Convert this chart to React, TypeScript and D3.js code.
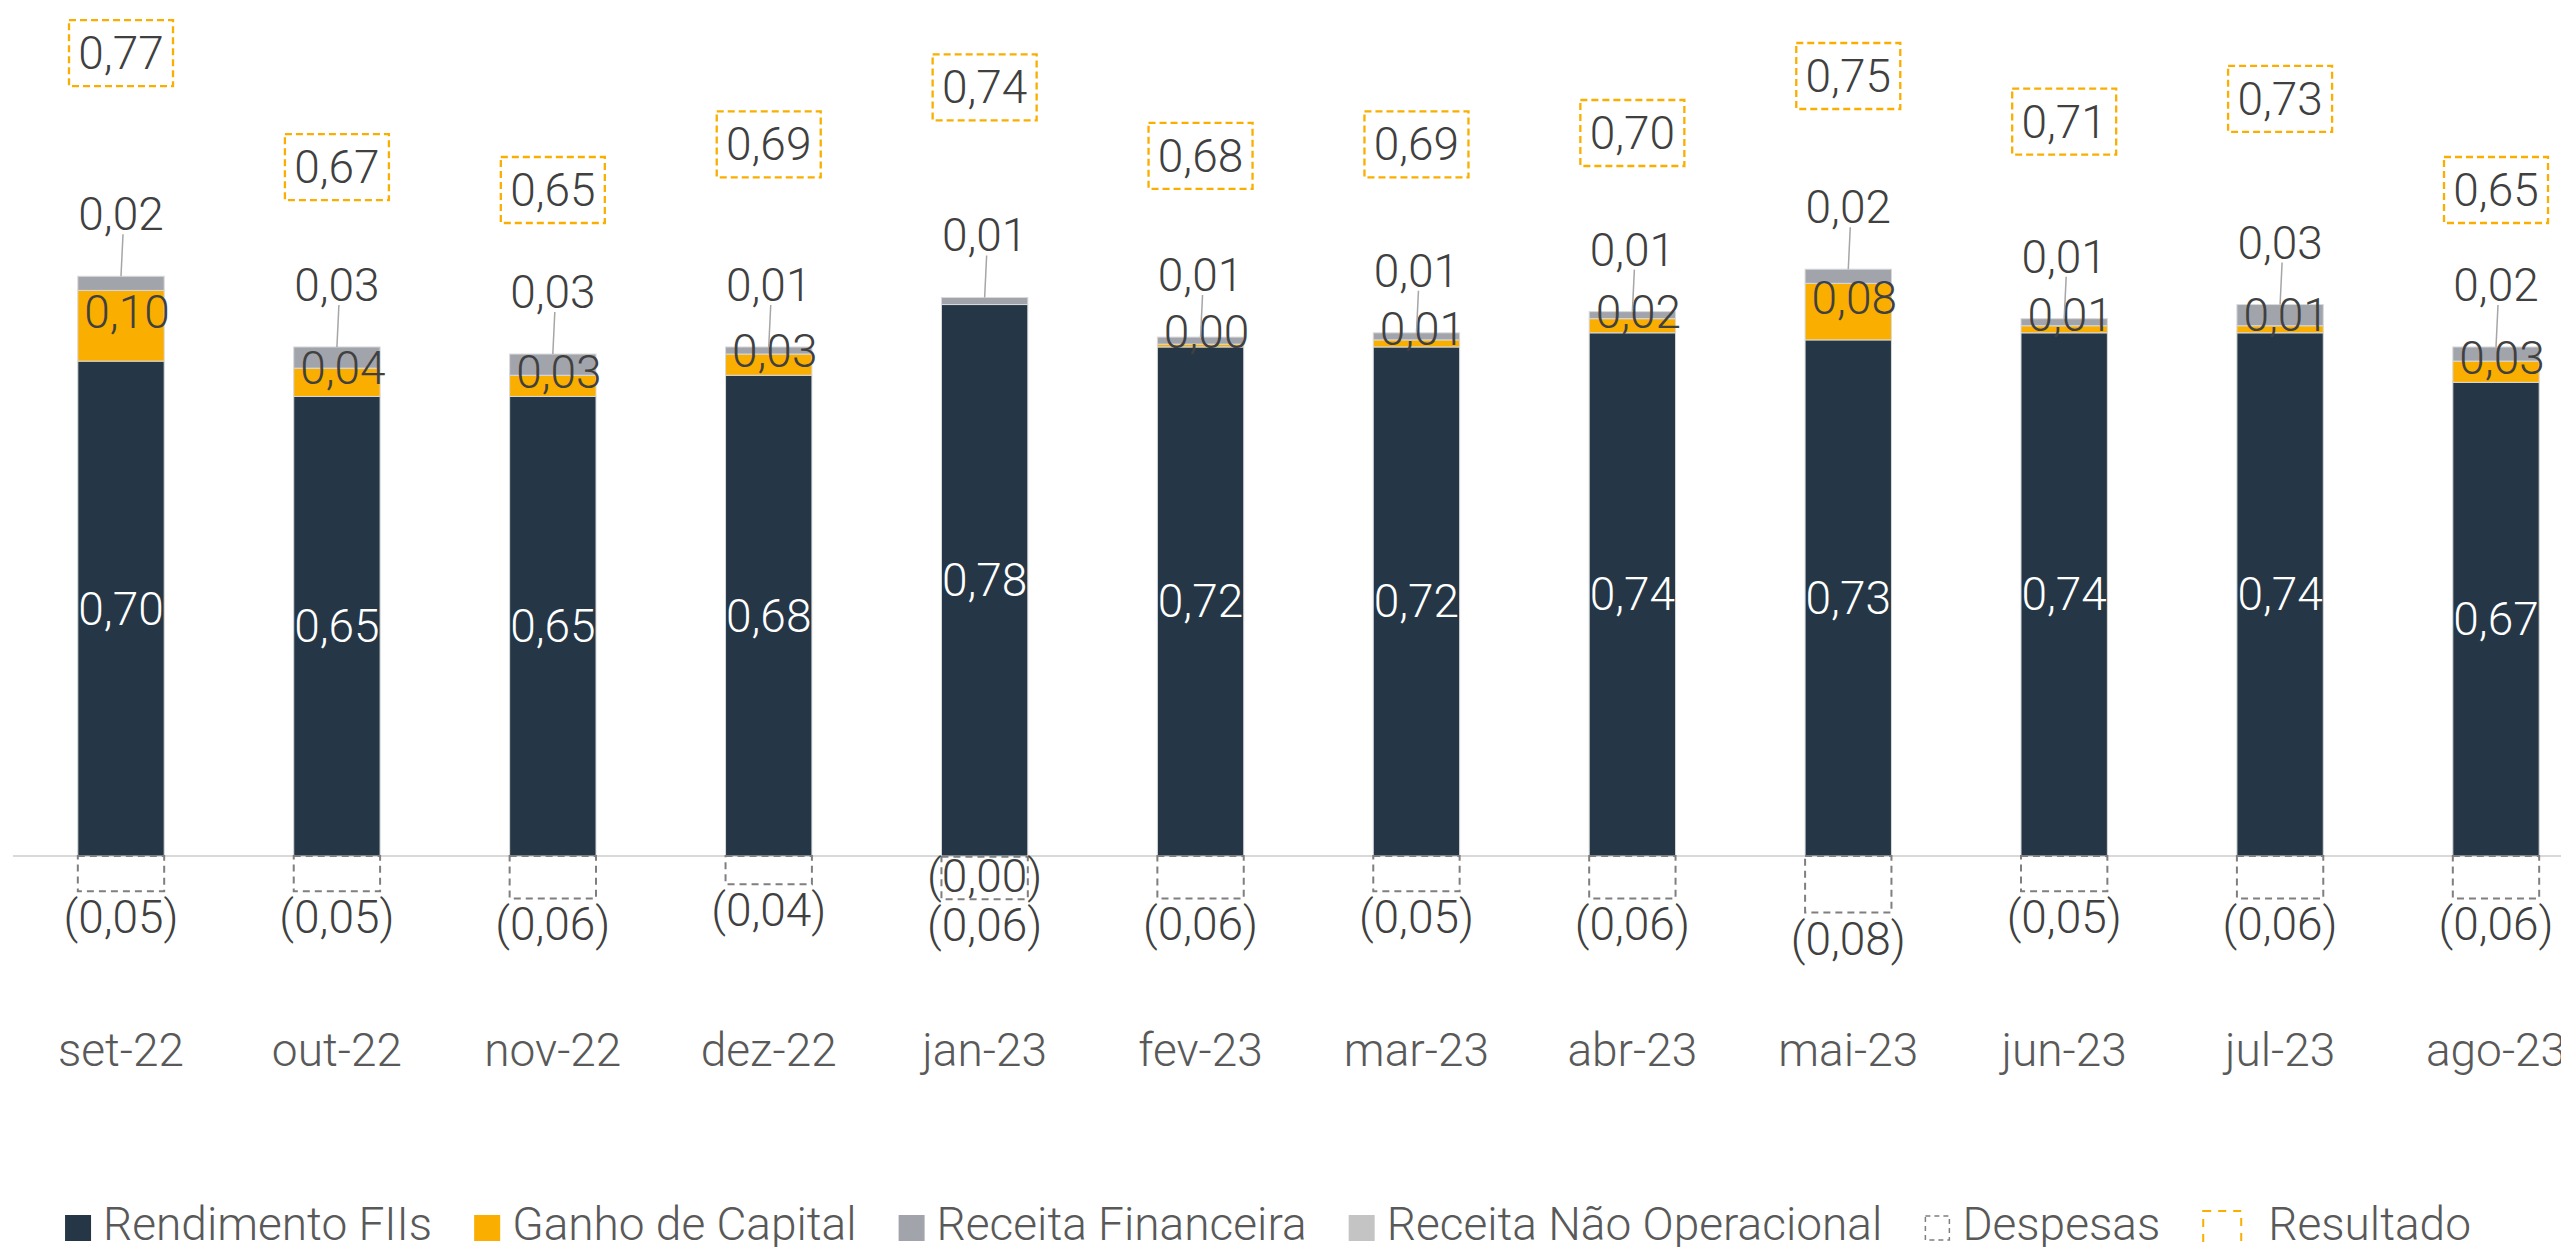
import React, { useEffect, useRef } from 'react';
import * as d3 from 'd3';

// dados (R$/cota)
const categories = ['set-22', 'out-22', 'nov-22', 'dez-22', 'jan-23', 'fev-23', 'mar-23', 'abr-23', 'mai-23', 'jun-23', 'jul-23', 'ago-23'];
const rendimentoFIIs = [0.70, 0.65, 0.65, 0.68, 0.78, 0.72, 0.72, 0.74, 0.73, 0.74, 0.74, 0.67];
const ganhoCapital = [0.10, 0.04, 0.03, 0.03, -0.001, 0.004, 0.01, 0.02, 0.08, 0.01, 0.01, 0.03];
const receitaFinanceira = [0.02, 0.03, 0.03, 0.01, 0.01, 0.01, 0.01, 0.01, 0.02, 0.01, 0.03, 0.02];
const receitaNaoOperacional = [0, 0, 0, 0, 0, 0, 0, 0, 0, 0, 0, 0];
const despesas = [-0.05, -0.05, -0.06, -0.04, -0.06, -0.06, -0.05, -0.06, -0.08, -0.05, -0.06, -0.06];
const resultado = [0.77, 0.67, 0.65, 0.69, 0.74, 0.68, 0.69, 0.70, 0.75, 0.71, 0.73, 0.65];

const legendItems = [
  { name: 'Rendimento FIIs', type: 'fill', color: '#253746' },
  { name: 'Ganho de Capital', type: 'fill', color: '#F9AE00' },
  { name: 'Receita Financeira', type: 'fill', color: '#A2A4AB' },
  { name: 'Receita Não Operacional', type: 'fill', color: '#C4C4C4' },
  { name: 'Despesas', type: 'dashGray', color: '#7F7F7F' },
  { name: 'Resultado', type: 'dashOrange', color: '#F9AE00' },
];

const W = 2561, H = 1247;
const FONT = 'Roboto, "Noto Sans", sans-serif';

const fmt = (v: number) => {
  const s = d3.format('.2f')(Math.abs(v)).replace('.', ',');
  return v < 0 ? `(${s})` : s;
};

export default function App() {
  const ref = useRef<SVGSVGElement>(null);

  useEffect(() => {
    document.body.style.margin = '0';
    document.body.style.overflow = 'hidden';
    const svg = d3.select(ref.current);
    svg.selectAll('*').remove();

    const x = d3.scalePoint<string>().domain(categories).range([121, 2496]);
    const bw = x.step() * 0.4;
    const y = d3.scaleLinear().domain([0, 1]).range([856, 149]);
    const y2 = d3.scaleLinear().domain([0.6, 0.8]).range([247, 19]);

    // eixo horizontal
    svg.append('line')
      .attr('x1', 13).attr('x2', W)
      .attr('y1', y(0)).attr('y2', y(0))
      .attr('stroke', '#D9D9D9').attr('stroke-width', 2);

    categories.forEach((c, i) => {
      const cx = x(c)!;
      const x0 = cx - bw / 2;
      const g = svg.append('g');

      // pilha positiva
      let top = 0;
      const segs: { v0: number; v1: number; color: string }[] = [];
      const push = (v: number, color: string) => {
        segs.push({ v0: top, v1: top + v, color });
        top += v;
      };
      push(rendimentoFIIs[i], '#253746');
      const gPos = ganhoCapital[i] >= 0;
      if (gPos) push(ganhoCapital[i], '#F9AE00');
      push(receitaFinanceira[i], '#A2A4AB');
      push(receitaNaoOperacional[i], '#C4C4C4');

      segs.forEach(s => {
        if (s.v1 - s.v0 <= 0) return;
        g.append('rect')
          .attr('x', x0).attr('width', bw)
          .attr('y', y(s.v1)).attr('height', y(s.v0) - y(s.v1))
          .attr('fill', s.color)
          .attr('stroke', '#D9D9D9').attr('stroke-width', 1);
      });

      // despesas (caixa tracejada abaixo do eixo)
      const negStart = gPos ? 0 : ganhoCapital[i];
      const negEnd = negStart + despesas[i];
      g.append('rect')
        .attr('x', x0).attr('width', bw)
        .attr('y', y(negStart)).attr('height', y(negEnd) - y(negStart))
        .attr('fill', 'none')
        .attr('stroke', '#7F7F7F').attr('stroke-width', 2)
        .attr('stroke-dasharray', '7,5');

      const label = (tx: number, ty: number, t: string, fill = '#404040') =>
        g.append('text')
          .attr('x', tx).attr('y', ty)
          .attr('text-anchor', 'middle')
          .attr('dominant-baseline', 'central')
          .attr('font-family', FONT).attr('font-weight', 300)
          .attr('font-size', 46).attr('fill', fill)
          .text(t);

      // rendimento
      label(cx, (y(0) + y(rendimentoFIIs[i])) / 2, fmt(rendimentoFIIs[i]), '#FFFFFF');

      // ganho de capital
      if (gPos) {
        const a = rendimentoFIIs[i];
        const b = a + ganhoCapital[i];
        label(cx + 6, (y(a) + y(b)) / 2 - 14, fmt(ganhoCapital[i]));
      } else {
        label(cx, y(0) + 20, fmt(ganhoCapital[i]));
      }

      // receita financeira com linha de chamada
      const stackTop = y(top);
      g.append('line')
        .attr('x1', cx + 2).attr('x2', cx)
        .attr('y1', stackTop - 42).attr('y2', stackTop)
        .attr('stroke', '#A6A6A6').attr('stroke-width', 1.5);
      label(cx, stackTop - 62, fmt(receitaFinanceira[i]));

      // despesas
      label(cx, y(negEnd) + 26, fmt(despesas[i]));

      // resultado
      const ry = y2(resultado[i]);
      g.append('rect')
        .attr('x', cx - 52).attr('y', ry - 33)
        .attr('width', 104).attr('height', 66)
        .attr('fill', 'none')
        .attr('stroke', '#F9AE00').attr('stroke-width', 2.3)
        .attr('stroke-dasharray', '7,4');
      label(cx, ry, fmt(resultado[i]));

      // categoria
      g.append('text')
        .attr('x', cx).attr('y', 1066)
        .attr('text-anchor', 'middle')
        .attr('font-family', FONT).attr('font-weight', 300)
        .attr('font-size', 46).attr('fill', '#595959')
        .text(c);
    });

    // legenda
    const lg = svg.append('g');
    let lx = 0;
    legendItems.forEach(it => {
      const sw = it.type === 'dashOrange' ? 40 : 26;
      if (it.type === 'fill') {
        lg.append('rect').attr('x', lx).attr('y', 1215).attr('width', sw).attr('height', 26).attr('fill', it.color);
      } else if (it.type === 'dashGray') {
        lg.append('rect').attr('x', lx + 1).attr('y', 1216).attr('width', sw - 2).attr('height', 24)
          .attr('fill', 'none').attr('stroke', it.color).attr('stroke-width', 1.5).attr('stroke-dasharray', '5,4');
      } else {
        lg.append('rect').attr('x', lx + 1).attr('y', 1211).attr('width', sw - 2).attr('height', 60)
          .attr('fill', 'none').attr('stroke', it.color).attr('stroke-width', 2).attr('stroke-dasharray', '8,7');
      }
      const t = lg.append('text')
        .attr('x', lx + sw + (it.type === 'dashOrange' ? 26 : 12)).attr('y', 1240)
        .attr('font-family', FONT).attr('font-weight', 300)
        .attr('font-size', 46).attr('fill', '#595959')
        .text(it.name);
      const tw = (t.node() as SVGTextElement).getComputedTextLength();
      lx += sw + (it.type === 'dashOrange' ? 26 : 12) + tw + 42;
    });
    const total = lx - 42;
    lg.attr('transform', `translate(${1268 - total / 2},0)`);
  }, []);

  return <svg ref={ref} width={W} height={H} style={{ display: 'block', background: '#fff' }} />;
}
